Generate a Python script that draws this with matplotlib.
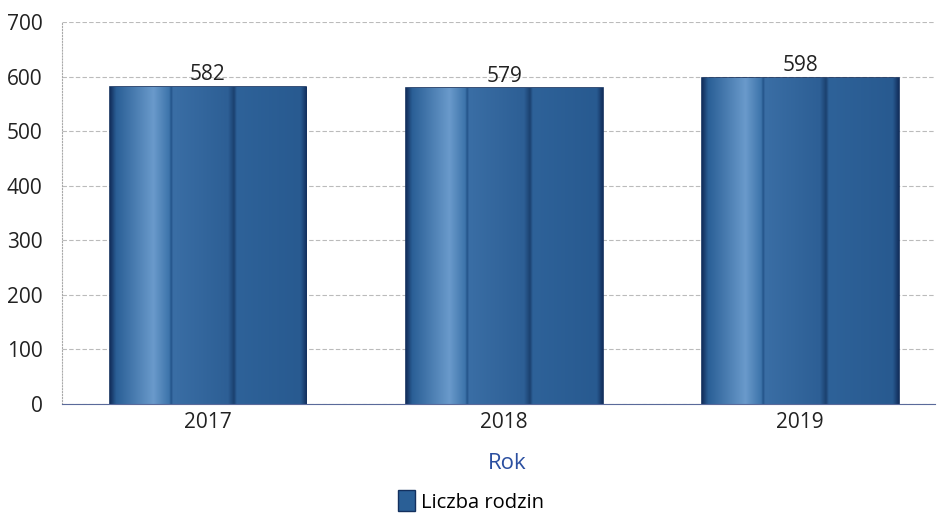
import numpy as np
import matplotlib.pyplot as plt
from matplotlib.colors import LinearSegmentedColormap
from matplotlib.patches import Patch

plt.rcParams['font.family'] = ['Open Sans', 'DejaVu Sans']

years = ['2017', '2018', '2019']
families = [582, 579, 598]

# cylinder-like shading across each bar
shade = LinearSegmentedColormap.from_list('shade', [
    (0.00, '#13305e'), (0.03, '#2a5f96'), (0.22, '#6a9acb'), (0.30, '#3d74ab'),
    (0.31, '#24548a'), (0.32, '#3a6ea5'), (0.60, '#2d5f95'), (0.63, '#1b406f'),
    (0.645, '#2e6299'), (0.97, '#285a90'), (1.00, '#13305e'),
])

fig = plt.figure(figsize=(9.39, 5.17), dpi=100)
ax = fig.add_axes([0.066, 0.219, 0.93, 0.738])

x = np.arange(len(years))
width = 0.665
bars = ax.bar(x, families, width=width, color='#2a5f96', edgecolor='#13305e',
              linewidth=1.2, zorder=2)

grad = np.linspace(0, 1, 256).reshape(1, -1)
for b in bars:
    x0, y0 = b.get_x(), b.get_y()
    im = ax.imshow(grad, cmap=shade, aspect='auto', zorder=2.5,
                   extent=[x0, x0 + b.get_width(), y0, y0 + b.get_height()])
    im.set_clip_path(b)

for xi, v in zip(x, families):
    ax.text(xi, v + 3, str(v), ha='center', va='bottom', fontsize=15, color='#222222', zorder=4)

ax.set_xlim(-0.493, 2.456)
ax.set_ylim(0, 700)
ax.set_yticks(range(0, 701, 100))
ax.set_xticks(x)
ax.set_xticklabels(years)
ax.tick_params(axis='both', length=0, labelsize=15, colors='#222222')
ax.tick_params(axis='y', pad=14)
ax.tick_params(axis='x', pad=6)
ax.set_xlabel('Rok', fontsize=16, color='#2b4fa0', labelpad=14)
ax.xaxis.label.set_x(0.51)

ax.grid(axis='y', color='#bbbbbb', linestyle=(0, (4, 2)), linewidth=0.8, zorder=0)
for s in ['top', 'right']:
    ax.spines[s].set_visible(False)
ax.spines['left'].set_color('#aaaaaa')
ax.spines['left'].set_linestyle(':')
ax.spines['bottom'].set_color('#5a6a9a')

handle = Patch(facecolor='#2a5f96', edgecolor='#13305e', label='Liczba rodzin')
fig.legend(handles=[handle], loc='center', bbox_to_anchor=(0.502, 0.03), frameon=False,
           fontsize=14.5, handlelength=0.85, handleheight=1.2, handletextpad=0.3,
           borderpad=0.2)

fig.savefig('out.png', dpi=100)
